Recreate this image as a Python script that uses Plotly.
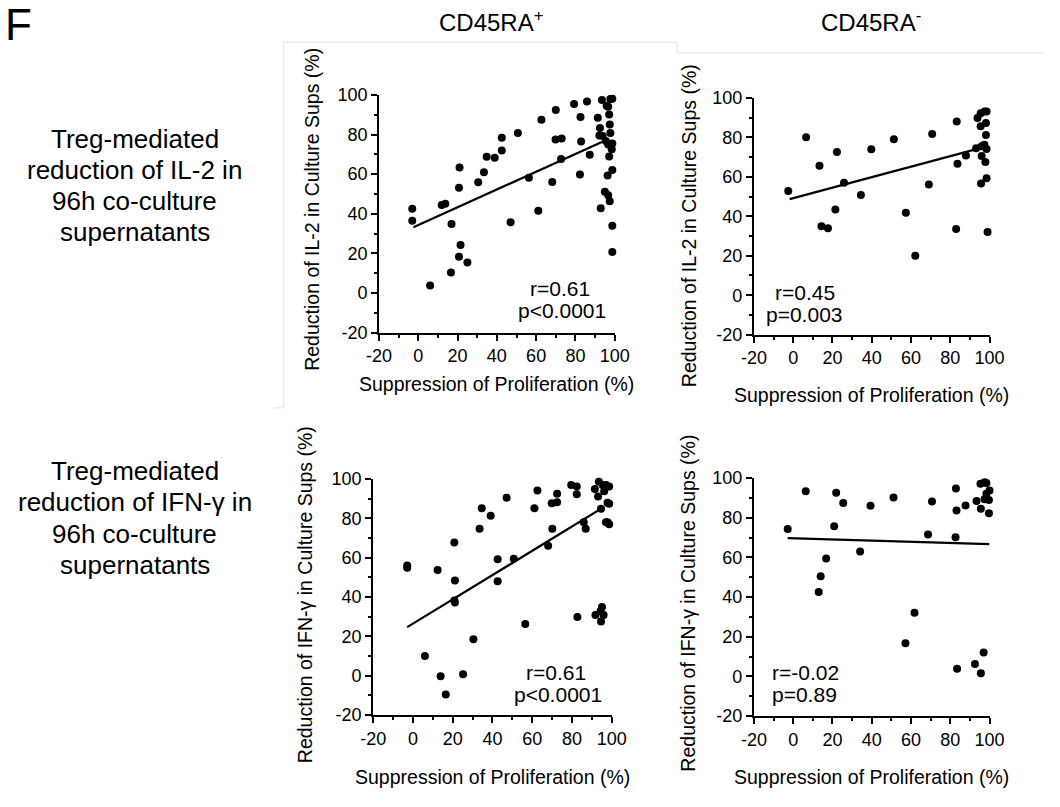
import plotly.graph_objects as go

W, H = 1060, 807
FONT = "Arial, Liberation Sans, sans-serif"

# ---------------- data ----------------
# Panel A: IL-2, CD45RA+
il2_pos_x = [-3.1, -3.1, 6.0, 11.9, 13.7, 16.9, 16.6, 21.0, 20.7, 21.5, 20.7, 25.0, 30.5, 33.4, 34.8,
             38.9, 42.5, 42.5, 47.0, 50.7, 56.3, 61.1, 62.7, 68.2, 69.9, 73.0, 70.0, 72.7, 79.3, 82.3,
             82.6, 82.9, 85.9, 87.3, 91.4, 92.9, 92.2, 92.5, 93.5, 95.9, 96.7, 97.8, 98.8, 97.2, 97.5,
             97.8, 95.5, 96.7, 98.8, 98.5, 97.2, 98.8, 96.4, 95.0, 96.7, 97.5, 98.8, 98.8, 93.9]
il2_pos_y = [42.5, 36.5, 3.8, 44.5, 45.1, 34.9, 10.4, 63.3, 53.2, 24.3, 18.3, 15.5, 55.9, 61.0, 68.8,
             68.3, 78.3, 71.9, 35.7, 80.7, 58.2, 41.5, 87.4, 56.0, 77.5, 78.0, 92.4, 67.6, 95.4, 59.8,
             88.8, 76.5, 96.7, 69.8, 88.4, 42.8, 79.5, 83.3, 97.4, 94.5, 94.0, 97.9, 98.0, 90.1, 85.0,
             80.8, 76.7, 75.0, 75.4, 72.6, 68.9, 62.1, 59.3, 51.1, 49.4, 46.4, 34.0, 20.8, 79.2]
il2_pos_fit_x = [-2.5, 95.2]
il2_pos_fit_y = [33.2, 77.0]

# Panel B: IL-2, CD45RA-
il2_neg_x = [-2.5, 6.6, 13.4, 14.4, 17.7, 21.5, 22.3, 25.9, 34.5, 39.8, 51.3, 57.4, 62.2, 69.1, 70.8,
             83.0, 83.3, 83.7, 88.0, 93.2, 93.9, 95.5, 97.5, 98.5, 95.5, 98.2, 100.2, 100.2, 98.2, 97.4,
             98.5, 96.0, 97.9, 98.5, 95.7, 99.0, 96.0]
il2_neg_y = [52.8, 80.0, 65.6, 34.9, 33.9, 43.4, 72.5, 57.0, 50.8, 73.9, 79.0, 41.8, 20.0, 56.1, 81.6,
             33.6, 88.0, 66.6, 70.8, 74.4, 89.7, 92.1, 93.1, 93.0, 85.6, 87.2, 84.9, 80.7, 81.1, 76.2,
             74.1, 70.5, 67.5, 59.3, 56.6, 32.0, 75.4]
il2_neg_fit_x = [-1.8, 93.9]
il2_neg_fit_y = [48.7, 74.1]

# Panel C: IFN-gamma, CD45RA+
ifn_pos_x = [-2.9, -2.9, 6.0, 12.4, 13.9, 16.5, 20.8, 21.1, 20.8, 21.1, 25.2, 30.4, 33.5, 34.6, 39.1,
             42.6, 42.6, 47.1, 50.7, 56.5, 61.1, 62.6, 68.0, 70.1, 69.8, 72.5, 72.5, 79.6, 82.4, 82.4,
             82.7, 85.9, 86.9, 91.5, 93.1, 91.8, 93.5, 94.6, 94.4, 95.1, 94.6, 95.9, 95.4, 97.1, 98.7,
             96.2, 97.9, 98.7, 97.9, 98.7, 97.1]
ifn_pos_y = [56.1, 54.9, 10.0, 53.8, -0.2, -9.5, 67.8, 48.4, 38.2, 37.3, 0.8, 18.6, 74.8, 85.2, 81.4,
             59.2, 48.0, 90.5, 59.5, 26.3, 85.2, 94.2, 66.1, 74.8, 87.7, 88.2, 92.6, 97.0, 96.2, 92.3,
             29.9, 78.1, 74.8, 94.9, 91.1, 30.9, 98.7, 84.9, 32.9, 34.9, 27.6, 30.9, 97.0, 97.0, 96.2,
             93.8, 88.0, 87.5, 78.1, 77.0, 78.1]
ifn_pos_fit_x = [-2.9, 96.2]
ifn_pos_fit_y = [24.7, 85.9]

# Panel D: IFN-gamma, CD45RA-
ifn_neg_x = [-2.8, 6.4, 13.0, 14.0, 16.8, 20.9, 21.9, 25.5, 34.1, 39.4, 51.1, 57.2, 61.8, 68.7, 70.7,
             82.9, 83.2, 82.7, 83.5, 87.8, 92.6, 93.4, 95.4, 97.5, 98.4, 95.6, 97.0, 95.6, 99.7, 100.0,
             98.4, 99.7, 97.5]
ifn_neg_y = [74.3, 93.4, 42.6, 50.5, 59.5, 75.7, 92.6, 87.4, 63.0, 86.1, 90.2, 16.7, 32.1, 71.5, 88.2,
             94.8, 83.6, 70.2, 3.9, 86.2, 6.2, 88.5, 97.2, 97.9, 97.5, 84.6, 12.0, 1.6, 82.3, 93.8,
             92.1, 89.0, 89.3]
ifn_neg_fit_x = [-2.8, 100.0]
ifn_neg_fit_y = [69.7, 66.7]

stats_r = ["r=0.61", "r=0.45", "r=0.61", "r=-0.02"]
stats_p = ["p&lt;0.0001", "p=0.003", "p&lt;0.0001", "p=0.89"]

column_titles = ["CD45RA<sup>+</sup>", "CD45RA<sup>-</sup>"]
row_title_lines = [["Treg-mediated", "reduction of IL-2 in", "96h co-culture", "supernatants"],
                   ["Treg-mediated", "reduction of IFN-γ in", "96h co-culture", "supernatants"]]
x_title = "Suppression of Proliferation (%)"
y_titles = ["Reduction of IL-2 in Culture Sups (%)", "Reduction of IFN-γ in Culture Sups (%)"]
tick_vals = [-20, 0, 20, 40, 60, 80, 100]
tick_text = ["-20", "0", "20", "40", "60", "80", "100"]
minor_vals = [-10, 10, 30, 50, 70, 90]
axis_range = [-20, 100]

# ---------------- layout helpers ----------------
def px(x):
    return x / W

def py(y):
    return 1 - y / H

# plot-area boxes in pixels: (left, right, top, bottom)
boxes = [(376, 618, 87, 331), (761, 1003, 90, 333), (370, 615, 481, 723), (761, 1003, 480, 724)]

panels = [(il2_pos_x, il2_pos_y, il2_pos_fit_x, il2_pos_fit_y),
          (il2_neg_x, il2_neg_y, il2_neg_fit_x, il2_neg_fit_y),
          (ifn_pos_x, ifn_pos_y, ifn_pos_fit_x, ifn_pos_fit_y),
          (ifn_neg_x, ifn_neg_y, ifn_neg_fit_x, ifn_neg_fit_y)]

fig = go.Figure()
layout = dict(width=W, height=H, margin=dict(l=0, r=0, t=0, b=0),
              paper_bgcolor="white", plot_bgcolor="rgba(0,0,0,0)", showlegend=False,
              font=dict(family=FONT, color="black"))

axis_major = dict(range=axis_range, tickmode="array", tickvals=tick_vals, ticktext=tick_text,
                  ticks="outside", ticklen=6, tickwidth=2,
                  tickcolor="black", showline=True, linewidth=2, linecolor="black",
                  showgrid=False, zeroline=False, tickfont=dict(family=FONT, size=18, color="black"),
                  fixedrange=True)
axis_minor = dict(range=axis_range, tickmode="array", tickvals=minor_vals, showticklabels=False,
                  ticks="outside", ticklen=4, tickwidth=2, tickcolor="black", showline=False,
                  showgrid=False, zeroline=False, fixedrange=True)

def ax_name(prefix, n):
    return prefix if n == 1 else f"{prefix}{n}"

# minor-tick overlay subplots first (drawn underneath), empty of data
for i, (l, r, t, b) in enumerate(boxes):
    m = i + 5
    xm, ym = f"x{m}", f"y{m}"
    fig.add_trace(go.Scatter(x=[None], y=[None], mode="markers", xaxis=xm, yaxis=ym,
                             hoverinfo="skip", showlegend=False))
    layout[f"xaxis{m}"] = dict(axis_minor, domain=[px(l), px(r)], anchor=ym)
    layout[f"yaxis{m}"] = dict(axis_minor, domain=[py(b), py(t)], anchor=xm)

for i, ((xs, ys, fx, fy), (l, r, t, b)) in enumerate(zip(panels, boxes)):
    n = i + 1
    xa, ya = ax_name("x", n), ax_name("y", n)
    fig.add_trace(go.Scatter(x=xs, y=ys, mode="markers", xaxis=xa, yaxis=ya, cliponaxis=False,
                             marker=dict(size=8, color="black")))
    fig.add_trace(go.Scatter(x=fx, y=fy, mode="lines", xaxis=xa, yaxis=ya, cliponaxis=False,
                             line=dict(color="black", width=2.2)))
    layout[ax_name("xaxis", n)] = dict(axis_major, domain=[px(l), px(r)], anchor=ya)
    layout[ax_name("yaxis", n)] = dict(axis_major, domain=[py(b), py(t)], anchor=xa)

fig.update_layout(**layout)

ann = []
# panel letter
ann.append(dict(text="F", x=px(-10), y=py(-12), xanchor="left", yanchor="top", showarrow=False,
                xref="paper", yref="paper", font=dict(size=44, family=FONT, color="black")))
# column titles
for txt, cx in zip(column_titles, [491, 881]):
    ann.append(dict(text=txt, x=px(cx), y=py(11), xanchor="center", yanchor="middle", showarrow=False,
                    xref="paper", yref="paper", font=dict(size=24, family=FONT, color="black")))
# row titles, one annotation per line
for lines, top in zip(row_title_lines, [132, 473]):
    for j, line in enumerate(lines):
        ann.append(dict(text=line, x=px(125), y=py(top + 32 * j), xanchor="center", yanchor="middle",
                        showarrow=False, xref="paper", yref="paper",
                        font=dict(size=26, family=FONT, color="black")))
# x axis titles
for cx, cy in [(497, 383), (882, 395), (492, 787), (882, 787)]:
    ann.append(dict(text=x_title, x=px(cx), y=py(cy), xanchor="center", yanchor="middle", showarrow=False,
                    xref="paper", yref="paper", font=dict(size=19.5, family=FONT, color="black")))
# y axis titles
for k, (cx, cy) in enumerate([(307, 204), (694, 221), (300, 600), (693, 608)]):
    ann.append(dict(text=y_titles[k // 2], x=px(cx), y=py(cy), xanchor="center", yanchor="middle",
                    textangle=-90, showarrow=False, xref="paper", yref="paper",
                    font=dict(size=19.5, family=FONT, color="black")))
# stats text
for rt, pt, (rx, ry, qx, qy) in zip(stats_r, stats_p,
                                     [(562, 286, 564, 308), (813, 290, 813, 312),
                                      (558, 679, 560, 702), (814, 679, 813, 702)]):
    ann.append(dict(text=rt, x=px(rx), y=py(ry), xanchor="center", yanchor="middle", showarrow=False,
                    xref="paper", yref="paper", font=dict(size=21, family=FONT, color="black")))
    ann.append(dict(text=pt, x=px(qx), y=py(qy), xanchor="center", yanchor="middle", showarrow=False,
                    xref="paper", yref="paper", font=dict(size=21, family=FONT, color="black")))

fig.update_layout(annotations=ann)

# faint frame lines present in the source figure
gray = dict(color="#e3e3e3", width=1)
shapes = [
    dict(type="line", xref="paper", yref="paper", x0=px(278), y0=py(33), x1=px(682), y1=py(33), line=gray),
    dict(type="line", xref="paper", yref="paper", x0=px(278), y0=py(33), x1=px(278), y1=py(408), line=gray),
    dict(type="line", xref="paper", yref="paper", x0=px(268), y0=py(408), x1=px(278), y1=py(408), line=gray),
    dict(type="line", xref="paper", yref="paper", x0=px(682), y0=py(33), x1=px(682), y1=py(44), line=gray),
    dict(type="line", xref="paper", yref="paper", x0=px(682), y0=py(44), x1=px(1060), y1=py(44), line=gray),
]
fig.update_layout(shapes=shapes)

fig.write_html("out.html")
